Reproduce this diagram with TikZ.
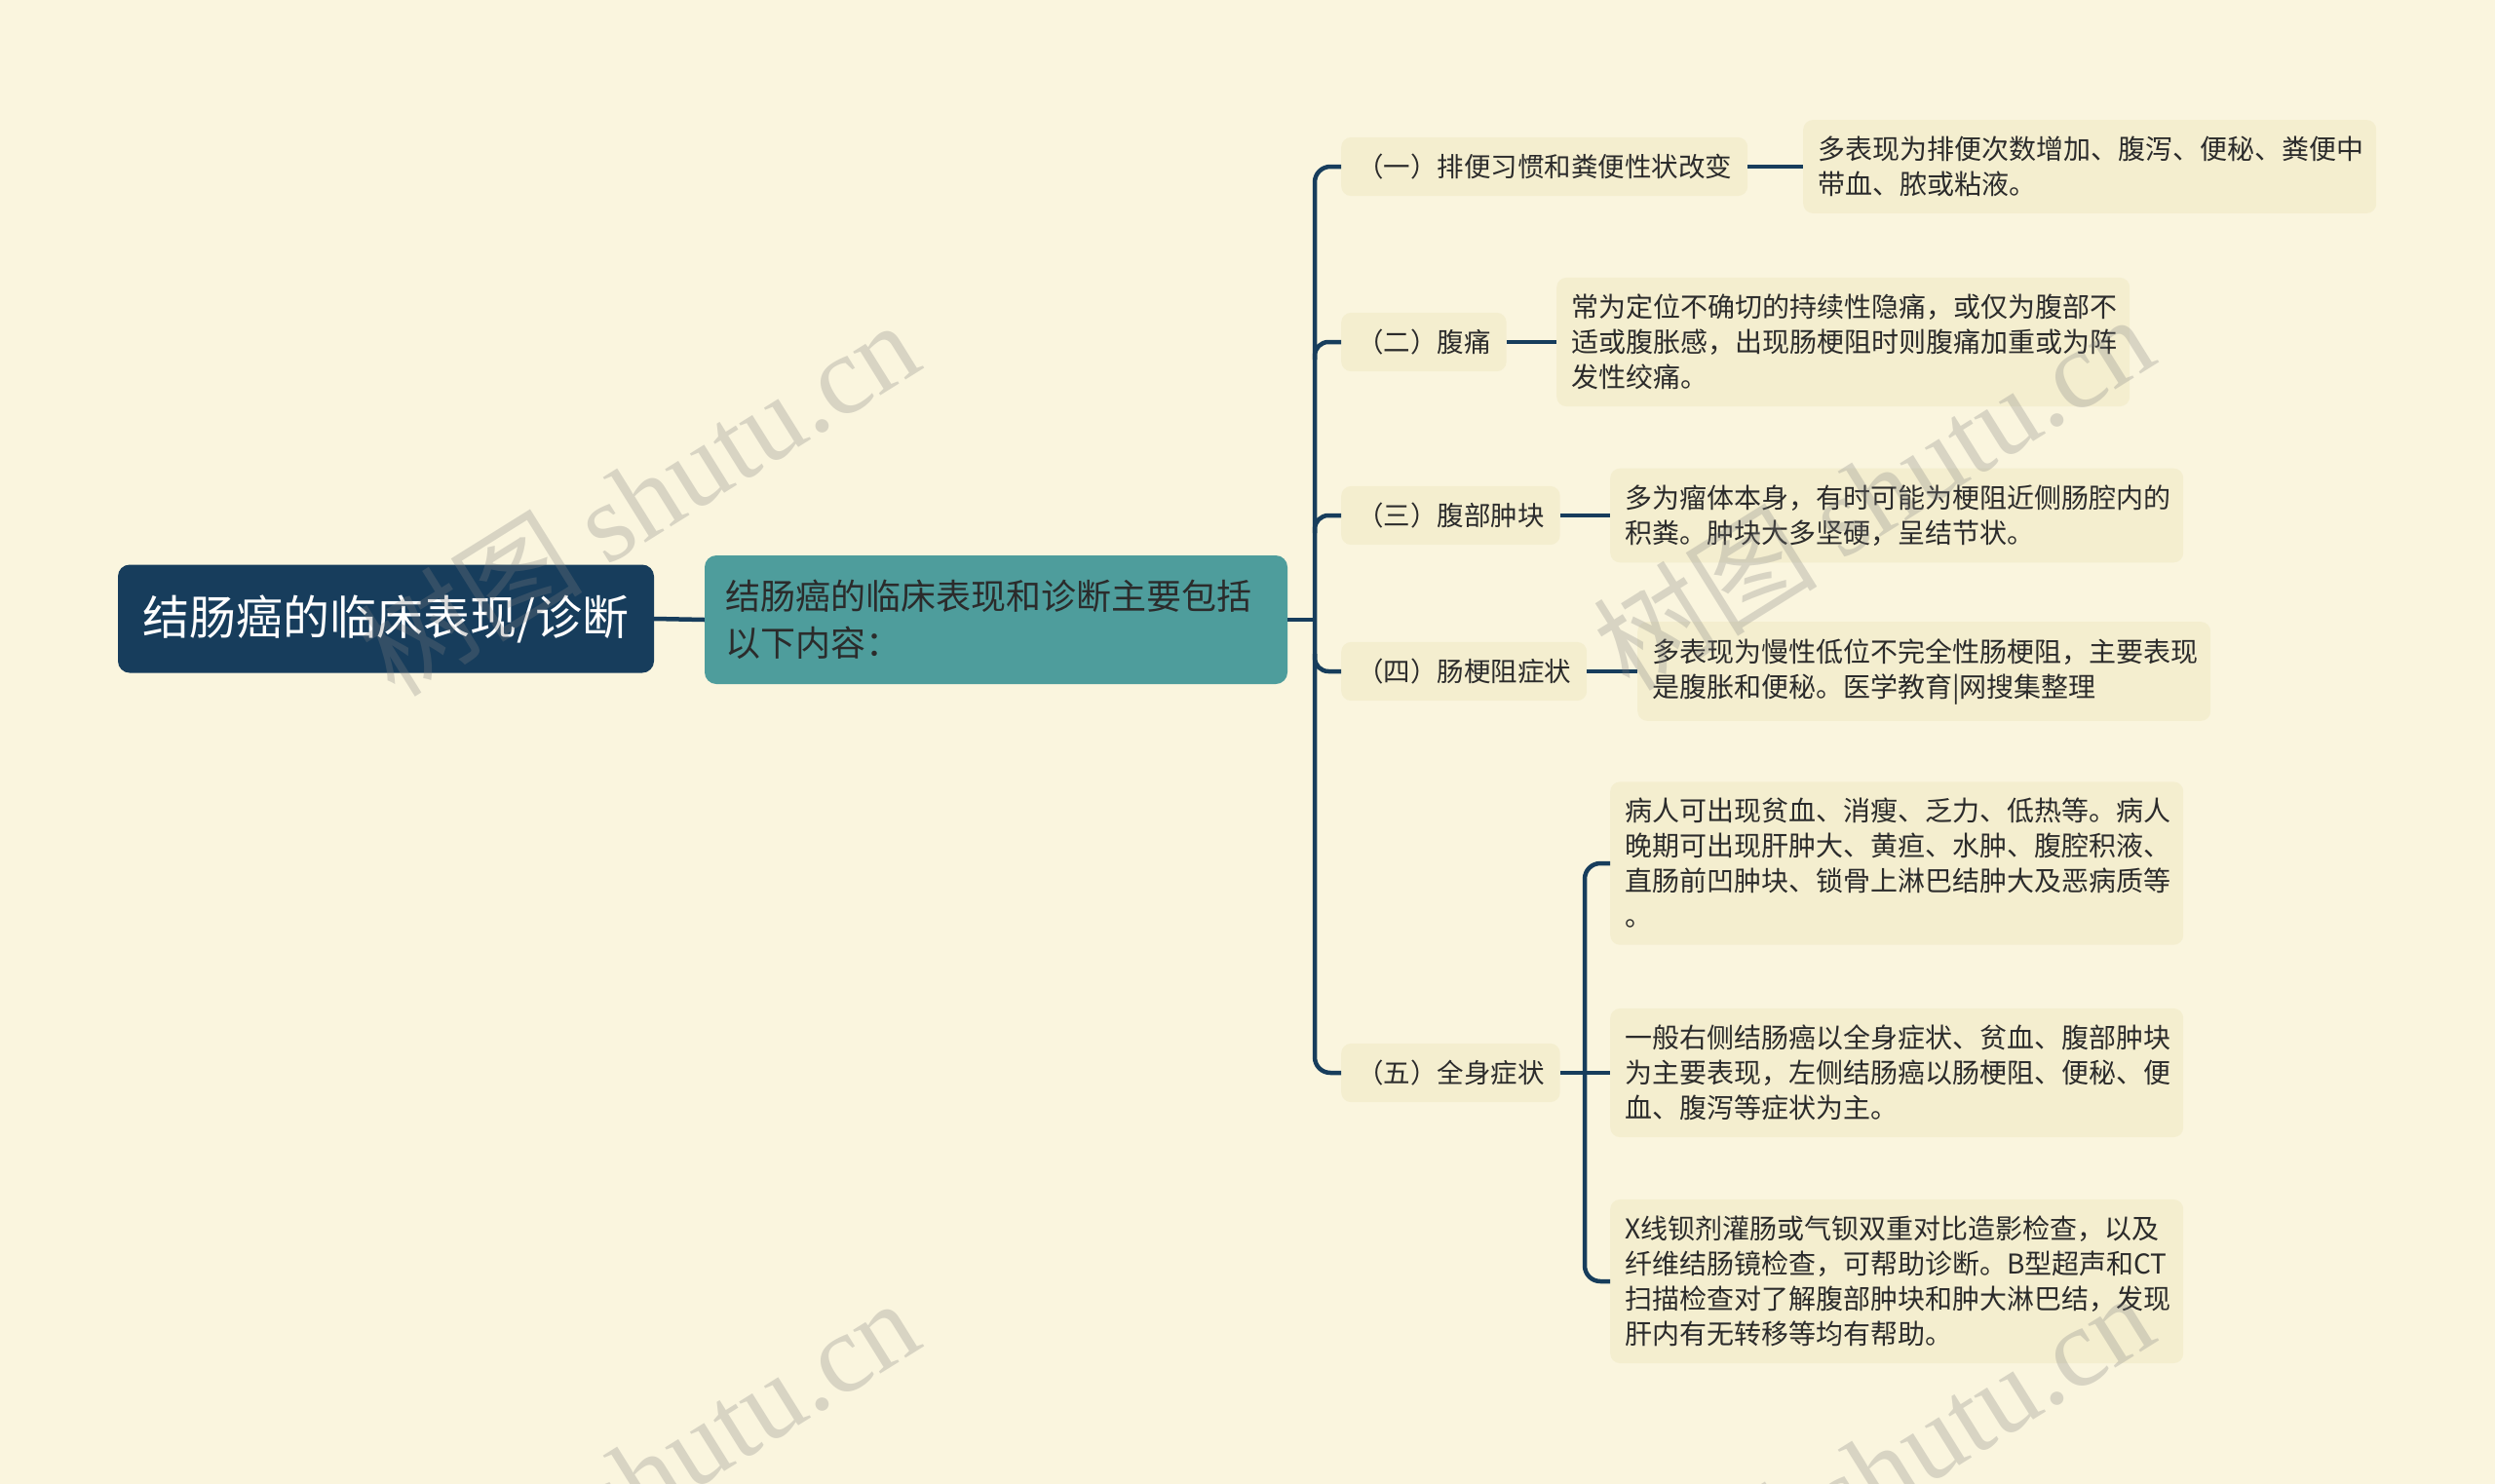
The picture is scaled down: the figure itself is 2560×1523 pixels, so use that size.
\documentclass[tikz,border=0pt]{standalone}
\usepackage{fontspec}
\setmainfont{Noto Sans CJK SC}
\newfontfamily\wmfont{Liberation Serif}
\definecolor{paper}{HTML}{FAF5DE}
\definecolor{navy}{HTML}{173D5C}
\definecolor{teal}{HTML}{4E9D9C}
\definecolor{cream}{HTML}{F4EECF}
\definecolor{ink}{HTML}{2B2B2B}
\tikzset{
  rootbox/.style={draw=none, fill=navy, text=white, rounded corners=12pt, minimum width=550pt, minimum height=111pt, font=\fontsize{48}{56}\selectfont},
  introbox/.style={draw=none, fill=teal, text=ink, rounded corners=12pt, text width=556pt, inner xsep=21pt, minimum height=132pt, align=left, font=\fontsize{36}{48}\selectfont},
  topicbox/.style={draw=none, fill=cream, text=ink, rounded corners=10pt, anchor=west, inner xsep=16pt, inner ysep=17pt, font=\fontsize{27.5}{36}\selectfont},
  leafbox/.style={draw=none, fill=cream, text=ink, rounded corners=10pt, anchor=west, text width=558pt, inner xsep=15pt, inner ysep=17pt, align=left, font=\fontsize{28}{36}\selectfont},
  link/.style={draw=navy, line width=4.5pt},
  wm/.style={text=gray, opacity=0.28, rotate=32, font=\fontsize{115}{120}\selectfont}
}
\begin{document}
\begin{tikzpicture}[x=1pt, y=-1pt]
    % background
    \fill[paper] (0,0) rectangle (2560,1523);
    \useasboundingbox (0,0) rectangle (2560,1523);
    \clip (0,0) rectangle (2560,1523);
    % main nodes
    \node[rootbox] (root) at (396,635) {结肠癌的临床表现/诊断};
    \node[introbox] (intro) at (1022,636) {结肠癌的临床表现和诊断主要包括\\以下内容：};
    % topics
    \node[topicbox] (t1) at (1376,171) {（一）排便习惯和粪便性状改变};
    \node[topicbox] (t2) at (1376,351) {（二）腹痛};
    \node[topicbox] (t3) at (1376,529) {（三）腹部肿块};
    \node[topicbox] (t4) at (1376,689) {（四）肠梗阻症状};
    \node[topicbox] (t5) at (1376,1101) {（五）全身症状};
    % details
    \node[leafbox] (d1) at (1850,171) {多表现为排便次数增加、腹泻、便秘、粪便中\\带血、脓或粘液。};
    \node[leafbox] (d2) at (1597,351) {常为定位不确切的持续性隐痛，或仅为腹部不\\适或腹胀感，出现肠梗阻时则腹痛加重或为阵\\发性绞痛。};
    \node[leafbox] (d3) at (1652,529) {多为瘤体本身，有时可能为梗阻近侧肠腔内的\\积粪。肿块大多坚硬，呈结节状。};
    \node[leafbox] (d4) at (1680,689) {多表现为慢性低位不完全性肠梗阻，主要表现\\是腹胀和便秘。医学教育|网搜集整理};
    \node[leafbox] (d5a) at (1652,886) {病人可出现贫血、消瘦、乏力、低热等。病人\\晚期可出现肝肿大、黄疸、水肿、腹腔积液、\\直肠前凹肿块、锁骨上淋巴结肿大及恶病质等\\。};
    \node[leafbox] (d5b) at (1652,1101) {一般右侧结肠癌以全身症状、贫血、腹部肿块\\为主要表现，左侧结肠癌以肠梗阻、便秘、便\\血、腹泻等症状为主。};
    \node[leafbox] (d5c) at (1652,1315) {X线钡剂灌肠或气钡双重对比造影检查，以及\\纤维结肠镜检查，可帮助诊断。B型超声和CT\\扫描检查对了解腹部肿块和肿大淋巴结，发现\\肝内有无转移等均有帮助。};
    % connectors
    \coordinate (hub) at (1349,636);
    \coordinate (subhub) at (1626,1101);
    \draw[link] (root.east) -- (intro.west);
    \draw[link] (intro.east) -- (hub);
    \draw[link, rounded corners=16pt] (t1.west) -| (hub) |- (t5.west);
    \draw[link, rounded corners=14pt] (t2.west) -- (t2.west -| hub) -- ++(0,18);
    \draw[link, rounded corners=14pt] (t3.west) -- (t3.west -| hub) -- ++(0,18);
    \draw[link, rounded corners=14pt] (t4.west) -- (t4.west -| hub) -- ++(0,-18);
    \draw[link] (t1.east) -- (d1.west);
    \draw[link] (t2.east) -- (d2.west);
    \draw[link] (t3.east) -- (d3.west);
    \draw[link] (t4.east) -- (d4.west);
    \draw[link] (t5.east) -- (d5b.west);
    \draw[link, rounded corners=16pt] (d5a.west) -| (subhub) |- (d5c.west);
    % watermarks
    \node[wm] (wm1) at (655,510) {树图 {\wmfont shutu.cn}};
    \node[wm] (wm2) at (1922,504) {树图 {\wmfont shutu.cn}};
    \node[wm] (wm3) at (655,1514) {树图 {\wmfont shutu.cn}};
    \node[wm] (wm4) at (1922,1508) {树图 {\wmfont shutu.cn}};
\end{tikzpicture}
\end{document}
